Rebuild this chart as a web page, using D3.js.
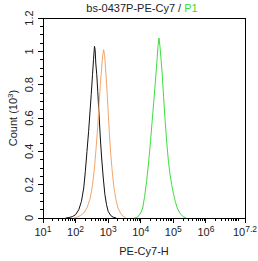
<!DOCTYPE html>
<html><head><meta charset="utf-8">
<script src="https://cdn.jsdelivr.net/npm/d3@7"></script>
<style>body{margin:0;background:#fff}svg{display:block}text{font-family:"Liberation Sans",Arial,sans-serif;fill:#222}</style>
</head><body><svg id="c" width="258" height="261"></svg>
<script>
// log10 of fluorescence (x) and count in 10^3 (y)
const blackX = [1.70,1.80,1.90,2.00,2.10,2.18,2.25,2.30,2.35,2.40,2.44,2.48,2.52,2.55,2.58,2.60,2.62,2.65,2.68,2.72,2.76,2.80,2.85,2.90,2.95,3.00,3.08,3.15,3.25];
const blackY = [0,0.003,0.008,0.02,0.05,0.10,0.18,0.28,0.40,0.52,0.63,0.74,0.86,0.95,1.03,1.01,0.93,0.86,0.76,0.62,0.48,0.36,0.24,0.14,0.08,0.04,0.015,0.005,0];
const orangeX = [1.95,2.05,2.15,2.25,2.35,2.45,2.52,2.58,2.63,2.68,2.72,2.76,2.80,2.83,2.86,2.89,2.92,2.96,3.00,3.04,3.08,3.13,3.18,3.24,3.30,3.38,3.45,3.55];
const orangeY = [0,0.005,0.015,0.03,0.06,0.12,0.20,0.30,0.42,0.55,0.68,0.80,0.90,0.97,1.01,0.98,0.90,0.78,0.64,0.50,0.38,0.27,0.18,0.11,0.06,0.03,0.012,0];
const greenX = [3.80,3.90,4.00,4.06,4.12,4.18,4.24,4.30,4.35,4.40,4.45,4.50,4.53,4.56,4.59,4.62,4.66,4.70,4.75,4.80,4.85,4.90,4.95,5.00,5.06,5.12,5.20,5.30,5.40];
const greenY = [0,0.005,0.03,0.06,0.13,0.22,0.33,0.46,0.58,0.70,0.82,0.95,1.03,1.08,1.03,0.96,0.86,0.73,0.58,0.45,0.34,0.26,0.20,0.15,0.10,0.06,0.03,0.008,0];
const xTickExp = ["1","2","3","4","5","6","7.2"];
const yTicks = [0,0.2,0.4,0.6,0.8,1,1.2];
const yTickLabels = ["0","0.2","0.4","0.6","0.8","1","1.2"];
const titleMain = "bs-0437P-PE-Cy7 / ";
const titleGate = "P1";
const xTitle = "PE-Cy7-H";

const svg = d3.select("#c");
const L=43,R=245,T=18,B=218;
const x = d3.scaleLog().domain([10, Math.pow(10,7.2)]).range([L,R]);
const y = d3.scaleLinear().domain([0,1.2]).range([B,T]);

// frame
svg.append("rect").attr("x",L).attr("y",T).attr("width",R-L).attr("height",B-T)
  .attr("fill","none").attr("stroke","#000").attr("stroke-width",1).attr("shape-rendering","crispEdges");

// x ticks
const minor=[];
for(let d=1; d<7; d++) for(let m=2;m<10;m++) minor.push(m*Math.pow(10,d));
minor.push(1e7);
svg.append("g").selectAll("line").data(minor).join("line")
  .attr("x1",d=>x(d)).attr("x2",d=>x(d)).attr("y1",B).attr("y2",B+3)
  .attr("stroke","#000").attr("shape-rendering","crispEdges");
svg.append("g").selectAll("line").data(xTickExp).join("line")
  .attr("x1",d=>x(Math.pow(10,+d))).attr("x2",d=>x(Math.pow(10,+d))).attr("y1",B).attr("y2",B+5)
  .attr("stroke","#000").attr("shape-rendering","crispEdges");
const xl = svg.append("g").selectAll("text").data(xTickExp).join("text")
  .attr("x",d=>x(Math.pow(10,+d))).attr("y",236).attr("text-anchor","middle").attr("font-size",11);
xl.append("tspan").text("10");
xl.append("tspan").attr("dy",-4).attr("font-size",8.5).text(d=>d);

// y ticks
const yMinor = d3.range(0,1.2001,0.05);
svg.append("g").selectAll("line").data(yMinor).join("line")
  .attr("x1",L-3).attr("x2",L).attr("y1",d=>y(d)).attr("y2",d=>y(d))
  .attr("stroke","#000").attr("shape-rendering","crispEdges");
svg.append("g").selectAll("line").data(yTicks).join("line")
  .attr("x1",L-5).attr("x2",L).attr("y1",d=>y(d)).attr("y2",d=>y(d))
  .attr("stroke","#000").attr("shape-rendering","crispEdges");
svg.append("g").selectAll("text").data(yTicks).join("text")
  .attr("transform",(d)=>`translate(33,${y(d)}) rotate(-90)`)
  .attr("text-anchor","middle").attr("font-size",11).text((d,i)=>yTickLabels[i]);

// y title
const yt = svg.append("text").attr("transform",`translate(17,${(T+B)/2}) rotate(-90)`)
  .attr("text-anchor","middle").attr("font-size",11);
yt.append("tspan").text("Count (10");
yt.append("tspan").attr("dy",-4).attr("font-size",8).text("3");
yt.append("tspan").attr("dy",4).text(")");

// x title
svg.append("text").attr("x",(L+R)/2).attr("y",255).attr("text-anchor","middle").attr("font-size",11).text(xTitle);

// title
const tt = svg.append("text").attr("x",142).attr("y",12).attr("text-anchor","middle").attr("font-size",11);
tt.append("tspan").text(titleMain);
tt.append("tspan").attr("fill","#33dd33").style("fill","#33dd33").text(titleGate);

// curves
const line = d3.line().x(d=>x(Math.pow(10,d[0]))).y(d=>y(d[1]));
const series = [
  {xs:blackX, ys:blackY, c:"#111"},
  {xs:orangeX, ys:orangeY, c:"#f2a56a"},
  {xs:greenX, ys:greenY, c:"#3ede3e"}
];
svg.append("g").selectAll("path").data(series).join("path")
  .attr("d",s=>line(s.xs.map((v,i)=>[v,s.ys[i]])))
  .attr("fill","none").attr("stroke",s=>s.c).attr("stroke-width",1);
</script></body></html>
